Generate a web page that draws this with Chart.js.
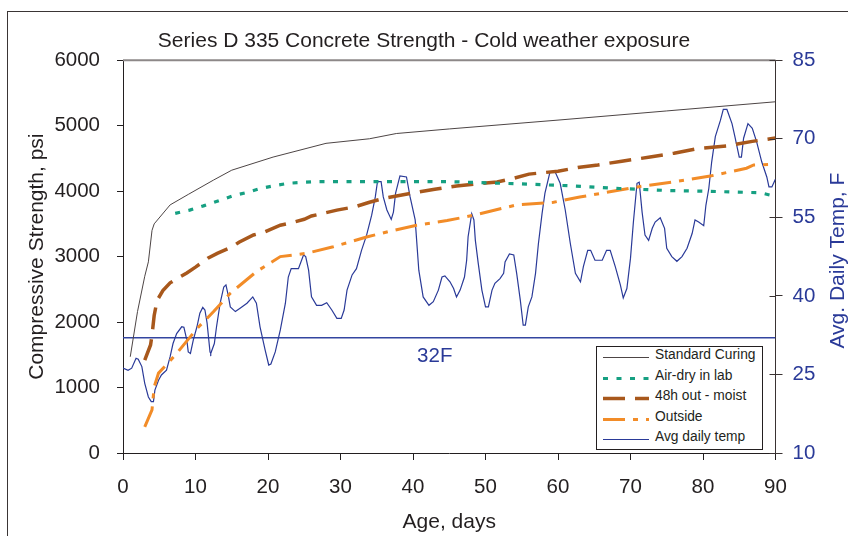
<!DOCTYPE html>
<html>
<head>
<meta charset="utf-8">
<script src="https://cdn.jsdelivr.net/npm/chart.js@4.4.1/dist/chart.umd.min.js"></script>
<style>
  html, body { margin: 0; padding: 0; background: #fff; overflow: hidden; }
  #wrap { position: relative; width: 848px; height: 536px; }
  #frame { position: absolute; left: 7px; top: 11px; width: 900px; height: 600px; border: 1px solid #3a3535; pointer-events: none; }
  #legend { position: absolute; left: 596px; top: 346px; width: 165px; height: 102px; border: 1px solid #231f20; background: #fff;
            font: 13.8px "Liberation Sans", Arial, sans-serif; color: #231f20; }
  .row { position: absolute; left: 0; width: 100%; height: 20px; }
  .row canvas { position: absolute; left: 6px; top: 6px; }
  .row span { position: absolute; left: 58px; top: 0; line-height: 15px; white-space: nowrap; }
</style>
</head>
<body>
<div id="wrap">
  <canvas id="myChart" width="848" height="536"></canvas>
  <div id="frame"></div>
  <div id="legend"></div>
</div>
<script>
// Standard curing
const stdDays = [1, 2, 3, 3.5, 4, 4.3, 6.5, 9, 12.5, 15, 20.7, 28, 34, 37.7, 45, 60, 75, 90];
const stdPsi  = [1470, 2160, 2700, 2920, 3400, 3500, 3790, 3950, 4170, 4320, 4520, 4730, 4800, 4880, 4950, 5085, 5225, 5365];

// Air-dry in lab
const airDays = [7.2, 9.2, 11.1, 13.1, 15.2, 17.1, 18.9, 20.7, 22.8, 26.3, 45, 55, 62, 68.5, 75, 80, 87.9, 90];
const airPsi  = [3660, 3710, 3775, 3850, 3930, 3980, 4040, 4080, 4120, 4145, 4145, 4110, 4080, 4040, 4010, 4000, 3975, 3920];

// 48h out - moist
const moistDays = [3, 3.8, 4, 4.3, 4.7, 5.5, 6.5, 8.8, 10, 11.7, 13, 15, 16, 18, 19.5, 21.7, 23, 25, 26, 29.5, 32, 34, 36,
                   40.7, 43, 46, 51.6, 54, 56, 60, 63, 65.5, 68.8, 72.7, 76, 79.3, 83.3, 86.8, 90];
const moistPsi  = [1420, 1650, 1800, 2100, 2330, 2480, 2600, 2750, 2840, 2975, 3050, 3145, 3220, 3330, 3375, 3480, 3510, 3570, 3620, 3710, 3760, 3830, 3890,
                   3985, 4030, 4080, 4140, 4200, 4260, 4305, 4366, 4400, 4458, 4520, 4580, 4650, 4690, 4760, 4810];

// Outside
const outDays = [3, 4, 4.3, 4.9, 6, 7.4, 10.2, 12.5, 14.8, 18.4, 21.7, 25.3, 29, 33.6, 37.3, 40.5, 44.7, 48.3, 54.3, 59.4, 63, 71.3, 75.9, 81, 86, 87, 90];
const outPsi  = [400, 660, 1010, 1220, 1350, 1520, 1900, 2160, 2440, 2770, 3000, 3050, 3150, 3300, 3400, 3480, 3550, 3630, 3790, 3830, 3910, 4070, 4140, 4230, 4350, 4400, 4410];

// Avg daily temp, F (right axis)
const tempDays = [0, 0.7, 1.2, 1.8, 2.1, 2.6, 3.0, 3.5, 3.9, 4.2, 4.4, 4.9, 5.3, 6.0, 6.5, 6.9, 7.4, 8.1, 8.4, 8.8, 9.0, 9.3, 9.7,
  10.2, 10.6, 11.0, 11.3, 11.6, 12.0, 12.1, 12.6, 12.9, 13.4, 13.9, 14.2, 14.5, 14.8, 15.5, 16.1, 17.1, 17.9, 18.4, 18.9, 19.6,
  20.1, 20.4, 21.0, 21.7, 22.4, 22.8, 23.2, 24.2, 24.9, 25.2, 25.6, 26.0, 26.7, 27.4, 28.1, 28.8, 29.5, 30.1, 30.5, 30.9, 31.6,
  32.2, 32.9, 33.6, 34.3, 34.8, 35.1, 35.6, 35.9, 36.4, 37.0, 37.3, 37.6, 38.0, 38.2, 39.1, 39.6, 40.3, 40.8, 41.4, 42.2, 42.8,
  43.5, 44.0, 44.4, 45.1, 45.6, 46.0, 46.5, 47.1, 47.4, 47.6, 48.1, 48.4, 48.6, 49.0, 49.5, 50.0, 50.4, 50.9, 51.3, 52.0, 52.5,
  52.7, 53.3, 53.9, 54.3, 54.8, 55.2, 55.5, 55.9, 56.4, 56.9, 57.3, 57.8, 58.2, 58.9, 59.6, 60.3, 61.0, 61.7, 62.4, 63.1, 63.5,
  64.1, 64.5, 65.1, 66.1, 66.7, 67.2, 67.9, 68.6, 69.0, 69.5, 70.0, 70.4, 70.9, 71.2, 71.6, 72.0, 72.5, 73.0, 73.4, 74.1, 74.7,
  75.0, 75.7, 76.4, 77.1, 77.8, 78.5, 78.9, 79.4, 80.1, 80.4, 80.8, 81.2, 81.7, 82.4, 82.8, 83.3, 84.0, 84.4, 85.0, 85.3, 85.6,
  86.2, 86.8, 87.4, 88.1, 88.8, 89.1, 89.5, 90.0];
const tempF = [26.2, 25.8, 26.2, 28.1, 27.9, 26.5, 23.3, 20.7, 19.8, 19.8, 22.0, 23.9, 24.9, 25.8, 28.4, 30.9, 32.8, 34.1, 34.0, 31.6, 29.3, 29.0, 31.6,
  34.1, 36.7, 37.8, 37.3, 34.8, 29.3, 29.0, 30.9, 34.1, 38.6, 41.7, 42.1, 40.2, 37.9, 37.0, 37.6, 38.6, 39.8, 38.6, 34.1, 29.7,
  26.8, 27.0, 29.3, 33.5, 38.6, 43.6, 45.2, 45.2, 47.8, 47.5, 44.9, 39.8, 38.2, 38.2, 38.7, 37.3, 35.7, 35.7, 37.3, 41.1, 44.0,
  45.2, 48.7, 51.6, 55.4, 58.9, 61.8, 61.8, 58.9, 56.4, 54.6, 56.0, 59.6, 61.8, 62.9, 62.7, 58.9, 54.5, 44.9, 39.8, 38.2, 38.9,
  41.1, 43.6, 43.8, 42.7, 41.4, 39.8, 41.1, 43.6, 46.8, 51.3, 55.7, 54.5, 50.6, 46.2, 41.1, 37.9, 37.9, 41.1, 42.4, 43.3, 44.3,
  46.5, 48.0, 47.8, 44.3, 39.2, 34.4, 34.4, 37.9, 39.8, 44.3, 50.0, 55.7, 59.6, 63.7, 63.7, 61.5, 56.4, 50.0, 44.3, 42.7, 45.6,
  48.7, 48.7, 46.8, 46.8, 48.7, 48.7, 45.6, 42.1, 39.6, 41.4, 47.2, 54.1, 61.5, 61.7, 56.0, 51.6, 50.6, 52.9, 54.1, 54.9, 52.9,
  49.1, 47.5, 46.6, 47.5, 49.1, 51.9, 54.5, 54.1, 53.4, 57.3, 60.5, 65.6, 70.4, 73.5, 75.6, 75.6, 72.9, 70.4, 66.5, 66.5, 70.1,
  72.9, 72.0, 69.4, 65.6, 62.7, 60.8, 60.8, 62.3];

// freezing reference line
const freezeDays = [0, 90];
const freezeF = [32, 32];

const yTickLabels = [0, 1000, 2000, 3000, 4000, 5000, 6000];
const tempTickLabels = [10, 25, 40, 55, 70, 85];

const FONT = '"Liberation Sans", Arial, sans-serif';
const INK = '#231f20';
const BLUE = '#2a3a98';

function pts(xs, ys) { return xs.map((x, i) => ({ x: x, y: ys[i] })); }

const extras = {
  id: 'extras',
  afterDraw(chart) {
    const c = chart.ctx, a = chart.chartArea;
    const x = chart.scales.x, y1 = chart.scales.y1;
    c.save();
    // top frame of plot area
    c.strokeStyle = '#8d8888';
    c.lineWidth = 2;
    c.beginPath(); c.moveTo(a.left, a.top); c.lineTo(a.right, a.top); c.stroke();
    // inner stubs of right axis ticks
    c.strokeStyle = '#3a3333';
    c.lineWidth = 1;
    tempTickLabels.forEach(v => {
      const py = Math.round(y1.getPixelForValue(v)) + 0.5;
      c.beginPath(); c.moveTo(a.right - 6, py); c.lineTo(a.right, py); c.stroke();
    });
    // 32F label
    c.fillStyle = BLUE;
    c.font = '20.5px ' + FONT;
    c.textAlign = 'center';
    c.textBaseline = 'middle';
    c.fillText('32F', x.getPixelForValue(43), y1.getPixelForValue(32) + 19);
    // right axis title, reading bottom to top
    c.font = '21px ' + FONT;
    c.translate(838, (a.top + a.bottom) / 2 + 4);
    c.rotate(-Math.PI / 2);
    c.fillText('Avg. Daily Temp, F', 0, 0);
    c.restore();
  }
};

const ctx = document.getElementById('myChart').getContext('2d');
const chart = new Chart(ctx, {
  type: 'line',
  data: {
    datasets: [
      { label: 'Standard Curing', data: pts(stdDays, stdPsi), yAxisID: 'y',
        borderColor: '#4d4545', borderWidth: 1, order: 1 },
      { label: 'Air-dry in lab', data: pts(airDays, airPsi), yAxisID: 'y',
        borderColor: '#16a082', borderWidth: 3.2, borderDash: [5, 8.5], borderCapStyle: 'butt', order: 2 },
      { label: '48h out - moist', data: pts(moistDays, moistPsi), yAxisID: 'y',
        borderColor: '#a8581c', borderWidth: 3.5, borderDash: [22, 10], order: 3 },
      { label: 'Outside', data: pts(outDays, outPsi), yAxisID: 'y',
        borderColor: '#f28c28', borderWidth: 3, borderDash: [22, 8, 5, 8], order: 4 },
      { label: 'Avg daily temp', data: pts(tempDays, tempF), yAxisID: 'y1',
        borderColor: BLUE, borderWidth: 1.2, order: 5 },
      { label: '32F', data: pts(freezeDays, freezeF), yAxisID: 'y1',
        borderColor: '#3345a0', borderWidth: 1.5, order: 6 }
    ]
  },
  options: {
    responsive: false,
    animation: false,
    events: [],
    elements: { point: { radius: 0 }, line: { tension: 0, fill: false } },
    layout: { padding: 0 },
    scales: {
      x: {
        type: 'linear', min: 0, max: 90,
        ticks: { stepSize: 10, color: INK, font: { family: FONT, size: 20.5 }, padding: 15, maxRotation: 0 },
        grid: { drawOnChartArea: false, tickLength: 7, color: INK },
        border: { color: INK },
        title: { display: true, text: 'Age, days', color: INK, font: { family: FONT, size: 21 }, padding: { top: 0, bottom: 1 } },
        afterFit(s) { s.height = 83; }
      },
      y: {
        position: 'left', min: 0, max: 6000,
        afterBuildTicks(s) { s.ticks = yTickLabels.map(v => ({ value: v })); },
        ticks: { color: INK, font: { family: FONT, size: 20.5 }, padding: 17, callback: v => String(v) },
        grid: { drawOnChartArea: false, tickLength: 6, color: INK },
        border: { color: INK },
        title: { display: true, text: 'Compressive Strength, psi', color: INK, font: { family: FONT, size: 21 }, padding: { top: 25 } },
        afterFit(s) { s.width = 123; }
      },
      y1: {
        position: 'right', min: 10, max: 85,
        afterBuildTicks(s) { s.ticks = tempTickLabels.map(v => ({ value: v })); },
        ticks: { color: BLUE, font: { family: FONT, size: 20.5 }, padding: 10, callback: v => String(v) },
        grid: { drawOnChartArea: false, tickLength: 7, color: '#3a3333' },
        border: { color: '#3a3333' },
        afterFit(s) { s.width = 72.5; }
      }
    },
    plugins: {
      legend: { display: false },
      tooltip: { enabled: false },
      title: {
        display: true,
        text: 'Series D 335 Concrete Strength - Cold weather exposure',
        color: INK,
        font: { family: FONT, size: 21, weight: 'normal' },
        padding: { top: 29, bottom: 6 }
      }
    }
  },
  plugins: [extras]
});

// legend box built from the first five datasets
const legendEl = document.getElementById('legend');
chart.data.datasets.slice(0, 5).forEach((ds, i) => {
  const row = document.createElement('div');
  row.className = 'row';
  row.style.top = (i * 20.6) + 'px';
  const cv = document.createElement('canvas');
  cv.width = 46; cv.height = 9;
  const g = cv.getContext('2d');
  g.strokeStyle = ds.borderColor;
  g.lineWidth = ds.borderWidth;
  g.setLineDash(ds.borderDash || []);
  g.beginPath(); g.moveTo(0, 4.5); g.lineTo(46, 4.5); g.stroke();
  const sp = document.createElement('span');
  sp.textContent = ds.label;
  row.appendChild(cv);
  row.appendChild(sp);
  legendEl.appendChild(row);
});
</script>
</body>
</html>
